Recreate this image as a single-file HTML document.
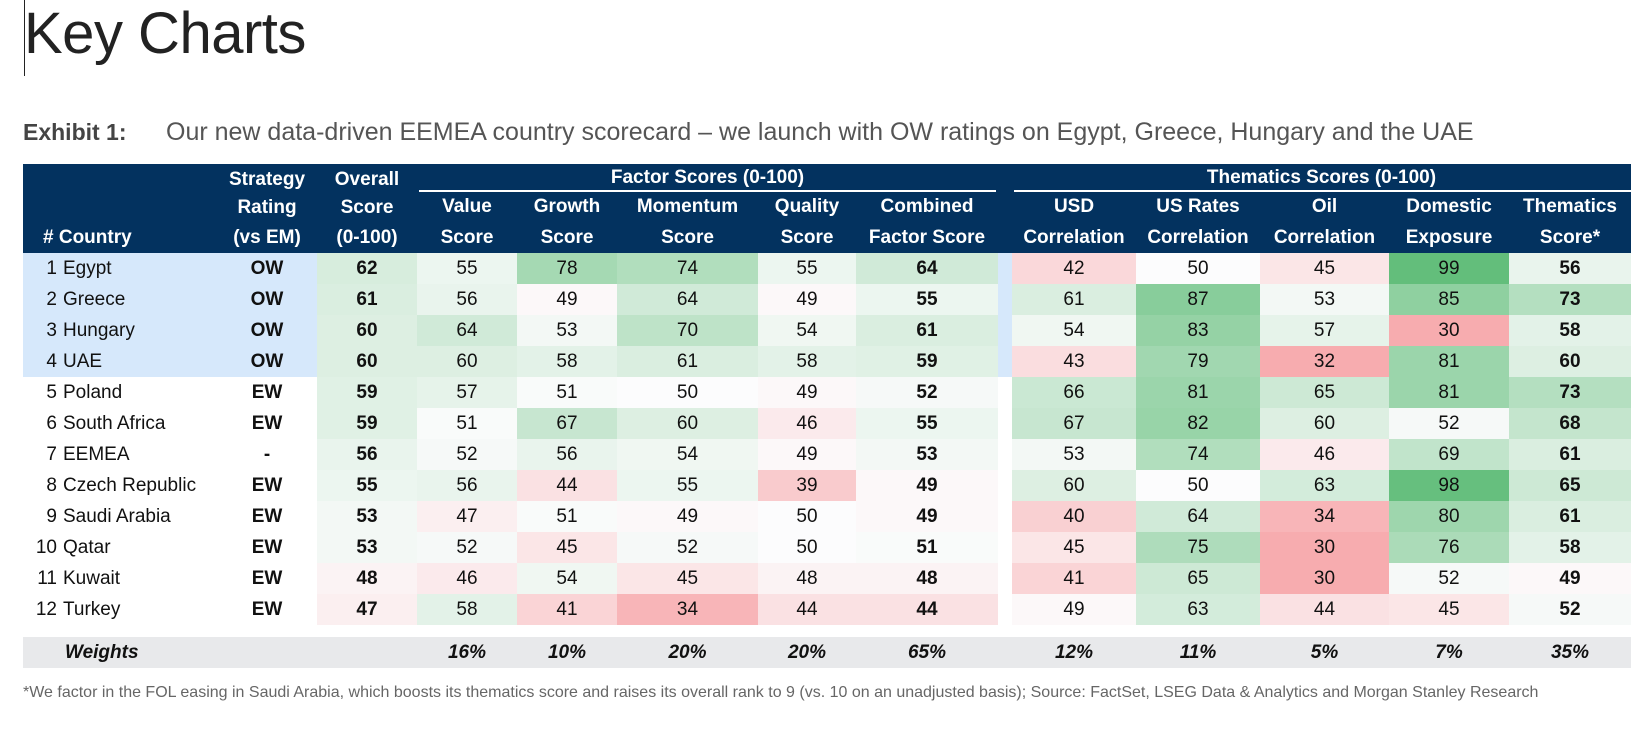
<!DOCTYPE html>
<html><head><meta charset="utf-8"><style>
body{margin:0;width:1647px;height:743px;background:#fff;position:relative;overflow:hidden;font-family:"Liberation Sans Narrow","Liberation Sans",sans-serif}
.a{position:absolute;box-sizing:border-box}
.c{position:absolute;box-sizing:border-box;display:flex;align-items:center;justify-content:center;font-size:19px;color:#111}
.h{color:#fff;font-weight:bold;font-size:19px}
</style></head><body>
<div class="a" style="left:24px;top:0;width:1px;height:76px;background:#222"></div>
<div class="a" style="left:24px;top:0px;font-size:58px;color:#222;font-weight:normal;letter-spacing:-0.5px">Key Charts</div>
<div class="a" style="left:23px;top:118px;font-size:25px;color:#555;white-space:nowrap"><b style="color:#444;font-size:23px">Exhibit 1:</b><span style="position:absolute;left:143px;white-space:nowrap">Our new data-driven EEMEA country scorecard – we launch with OW ratings on Egypt, Greece, Hungary and the UAE</span></div>
<div class="a" style="left:23px;top:164px;width:1608px;height:89px;background:#03325f"></div>
<div class="a" style="left:23px;top:637px;width:1608px;height:31px;background:#e8e9eb"></div>
<div class="a" style="left:23px;top:684px;font-size:16px;color:#666;white-space:nowrap">*We factor in the FOL easing in Saudi Arabia, which boosts its thematics score and raises its overall rank to 9 (vs. 10 on an unadjusted basis); Source: FactSet, LSEG Data &amp; Analytics and Morgan Stanley Research</div>
<div id="t"></div>
<script>
const countries=["Egypt","Greece","Hungary","UAE","Poland","South Africa","EEMEA","Czech Republic","Saudi Arabia","Qatar","Kuwait","Turkey"];
const ratings=["OW","OW","OW","OW","EW","EW","-","EW","EW","EW","EW","EW"];
const overall=[62,61,60,60,59,59,56,55,53,53,48,47];
const valueS=[55,56,64,60,57,51,52,56,47,52,46,58];
const growthS=[78,49,53,58,51,67,56,44,51,45,54,41];
const momentumS=[74,64,70,61,50,60,54,55,49,52,45,34];
const qualityS=[55,49,54,58,49,46,49,39,50,50,48,44];
const combinedS=[64,55,61,59,52,55,53,49,49,51,48,44];
const usdS=[42,61,54,43,66,67,53,60,40,45,41,49];
const ratesS=[50,87,83,79,81,82,74,50,64,75,65,63];
const oilS=[45,53,57,32,65,60,46,63,34,30,30,44];
const domesticS=[99,85,30,81,81,52,69,98,80,76,52,45];
const thematicsS=[56,73,58,60,73,68,61,65,61,58,49,52];
const weights=["","16%","10%","20%","20%","65%","12%","11%","5%","7%","35%"];
const cols=[[317,417,overall,1,"overall"],[417,517,valueS,0,"value"],[517,617,growthS,0,"growth"],[617,758,momentumS,0,"momentum"],[758,856,qualityS,0,"quality"],[856,998,combinedS,1,"combined"],[1012,1136,usdS,0,"usd"],[1136,1260,ratesS,0,"us-rates"],[1260,1389,oilS,0,"oil"],[1389,1509,domesticS,0,"domestic"],[1509,1631,thematicsS,1,"thematics"]];
const T=document.getElementById('t');
const top0=253,rh=31;
function color(v){
  if(v>=50){const t=Math.min(1,(v-50)/49);return `rgb(${Math.round(252-(252-99)*t)},${Math.round(252-(252-190)*t)},${Math.round(253-(253-123)*t)})`;}
  const t=Math.min(1,(50-v)/18);return `rgb(${Math.round(252-(252-247)*t)},${Math.round(252-(252-172)*t)},${Math.round(253-(253-175)*t)})`;
}
function mk(x,y,w,h,txt,cls,style){const d=document.createElement('div');d.className=cls;d.style.cssText=`left:${x}px;top:${y}px;width:${w}px;height:${h}px;`+(style||'');d.textContent=txt;T.appendChild(d);return d;}
let e;
e=mk(23,222,194,31,"# Country","c h","justify-content:flex-start;padding-left:20px");


[["Strategy",164],["Rating",192],["(vs EM)",222]].forEach(p=>{e=mk(217,p[1],100,31,p[0],"c h");

});
[["Overall",164],["Score",192],["(0-100)",222]].forEach(p=>{e=mk(317,p[1],100,31,p[0],"c h");

});
e=mk(417,164,581,28,"Factor Scores (0-100)","c h");


e=mk(419,190,577,2,"","a","background:#fff");


e=mk(1012,164,619,28,"Thematics Scores (0-100)","c h");


e=mk(1014,190,617,2,"","a","background:#fff");


const sub=[["Value","Score"],["Growth","Score"],["Momentum","Score"],["Quality","Score"],["Combined","Factor Score"],["USD","Correlation"],["US Rates","Correlation"],["Oil","Correlation"],["Domestic","Exposure"],["Thematics","Score*"]];
sub.forEach((s,i)=>{const c=cols[i+1];
e=mk(c[0],192,c[1]-c[0],30,s[0],"c h");


e=mk(c[0],222,c[1]-c[0],31,s[1],"c h");

});
countries.forEach((n,r)=>{const y=top0+r*rh;
 const hl=r<4;
 e=mk(23,y,294,rh,"","a",hl?"background:#d6e8fb":"");
 
 
 if(hl){e=mk(998,y,14,rh,"","a","background:#d6e8fb");
 
 }
 e=mk(23,y,34,rh,String(r+1),"c","justify-content:flex-end");
 
 
 e=mk(63,y,154,rh,n,"c","justify-content:flex-start");
 
 
 e=mk(217,y,100,rh,ratings[r],"c","font-weight:bold");
 
 
 cols.forEach(c=>{const v=c[2][r];
  e=mk(c[0],y,c[1]-c[0],rh,String(v),"c","background:"+color(v)+(c[3]?";font-weight:bold":""));
  
  
 });
});
e=mk(23,637,200,31,"Weights","c","justify-content:flex-start;padding-left:42px;font-weight:bold;font-style:italic");


cols.forEach((c,i)=>{if(!weights[i])return;
 e=mk(c[0],637,c[1]-c[0],31,weights[i],"c","font-weight:bold;font-style:italic");
 
 });
</script>
</body></html>
